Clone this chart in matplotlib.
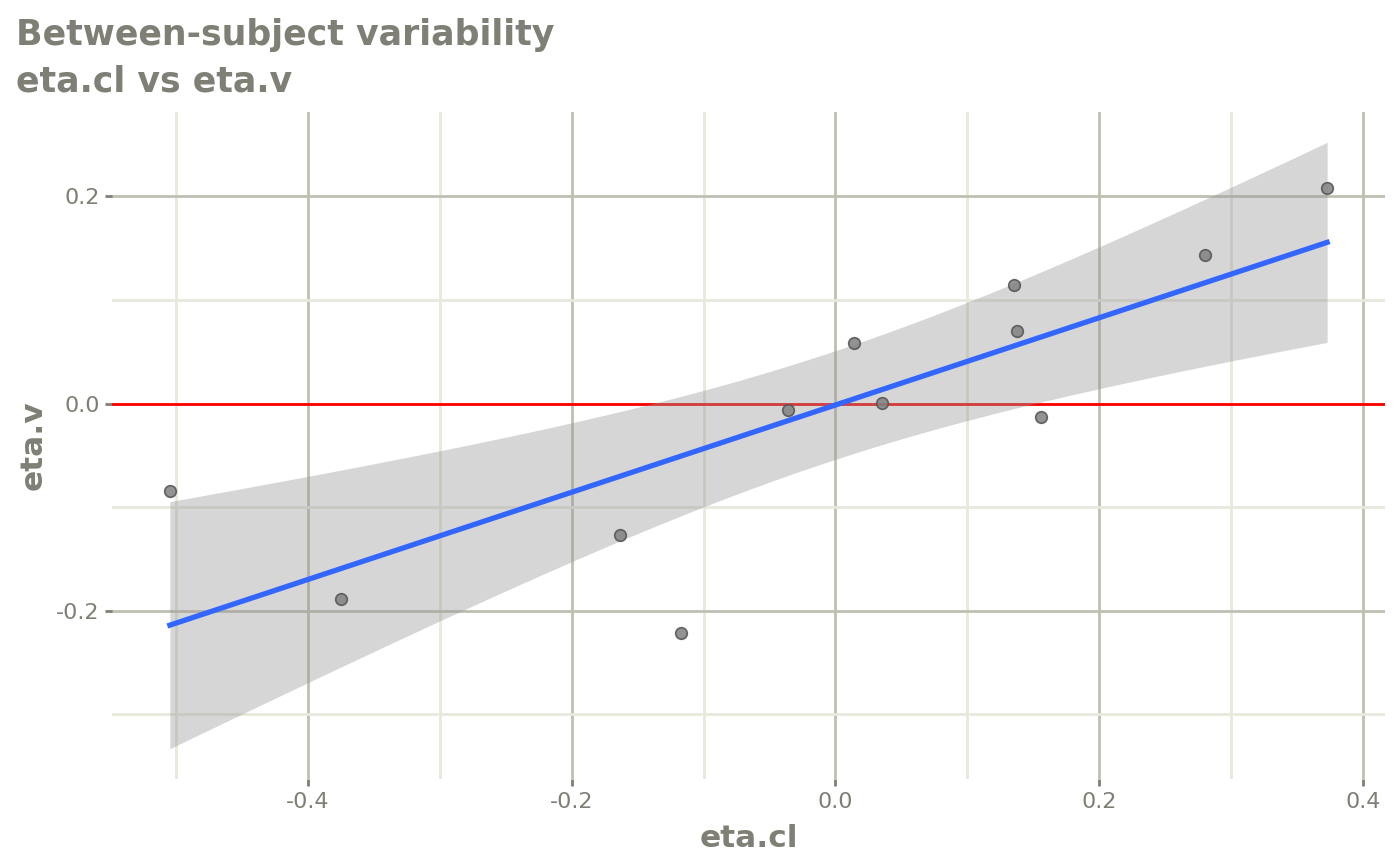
import numpy as np
import matplotlib
matplotlib.use("Agg")
import matplotlib.pyplot as plt
from matplotlib.ticker import FixedLocator

# Data
eta_cl = [-0.5045, -0.375, -0.1636, -0.1174, -0.0356, 0.0144, 0.0356,
          0.1356, 0.1379, 0.156, 0.2803, 0.3727]
eta_v = [-0.0839, -0.189, -0.127, -0.2217, -0.0058, 0.0588, 0.001,
         0.1147, 0.0704, -0.0125, 0.1436, 0.2082]
x_ticks = [-0.4, -0.2, 0.0, 0.2, 0.4]
y_ticks = [-0.2, 0.0, 0.2]
title_lines = ["Between-subject variability", "eta.cl vs eta.v"]

x = np.array(eta_cl)
y = np.array(eta_v)
n = len(x)

# Linear fit with 95% CI (like geom_smooth(method="lm"))
b1, b0 = np.polyfit(x, y, 1)
resid = y - (b0 + b1 * x)
s = np.sqrt(np.sum(resid ** 2) / (n - 2))
t_crit = 2.228  # t(0.975, df=10)
xg = np.linspace(x.min(), x.max(), 80)
yg = b0 + b1 * xg
se = s * np.sqrt(1 / n + (xg - x.mean()) ** 2 / np.sum((x - x.mean()) ** 2))
lo, hi = yg - t_crit * se, yg + t_crit * se

text_col = "#7f7f76"
major_col = "#bfbfb2"
minor_col = "#e8e8dc"

W, H = 1400, 866
fig = plt.figure(figsize=(14, 8.66), dpi=100)
L, R, T, B = 112, 1385, 112, 779
ax = fig.add_axes([L / W, 1 - B / H, (R - L) / W, (B - T) / H])

# limits with ggplot-style 5% expansion
xmin, xmax = x.min(), x.max()
xr = xmax - xmin
ax.set_xlim(xmin - 0.05 * xr, xmax + 0.05 * xr)
ymin, ymax = min(y.min(), lo.min()), max(y.max(), hi.max())
yr = ymax - ymin
ax.set_ylim(ymin - 0.05 * yr, ymax + 0.05 * yr)

for sp in ax.spines.values():
    sp.set_visible(False)

ax.xaxis.set_major_locator(FixedLocator(x_ticks))
ax.yaxis.set_major_locator(FixedLocator(y_ticks))
ax.xaxis.set_minor_locator(FixedLocator([-0.5, -0.3, -0.1, 0.1, 0.3]))
ax.yaxis.set_minor_locator(FixedLocator([-0.3, -0.1, 0.1, 0.3]))
ax.set_xticklabels([f"{v:.1f}" for v in x_ticks])
ax.set_yticklabels([f"{v:.1f}" for v in y_ticks])

ax.grid(which="major", color=major_col, linewidth=2.0, zorder=0)
ax.grid(which="minor", color=minor_col, linewidth=2.0, zorder=0)
ax.set_axisbelow(True)
ax.tick_params(which="major", length=5, width=2, color=text_col, labelcolor=text_col,
               labelsize=16, pad=4)
ax.tick_params(which="minor", length=0)

ax.axhline(0, color="#ff0000", linewidth=2.0, zorder=2)
ax.fill_between(xg, lo, hi, color="#999999", alpha=0.4, linewidth=0, zorder=3)
ax.plot(xg, yg, color="#3366FF", linewidth=3.8, zorder=4)
ax.scatter(x, y, s=70, facecolor="#808080", edgecolor="#505050", linewidth=1.2,
           alpha=0.85, zorder=5)

fig.text((L + R) / 2 / W, 1 - 847 / H, "eta.cl", fontsize=22.5, fontweight="bold",
         color=text_col, ha="center", va="baseline")
fig.text(33 / W, 1 - 445 / H, "eta.v", fontsize=22.5, fontweight="bold",
         color=text_col, ha="center", va="center", rotation=90)

fig.text(16 / W, 1 - 45 / H, title_lines[0], fontsize=25, fontweight="bold",
         color=text_col, va="baseline", ha="left")
fig.text(16 / W, 1 - 92 / H, title_lines[1], fontsize=25, fontweight="bold",
         color=text_col, va="baseline", ha="left")

fig.savefig("out.png", dpi=100)
